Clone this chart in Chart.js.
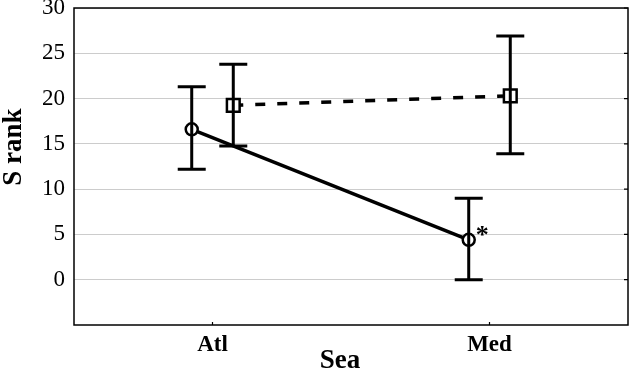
<!DOCTYPE html>
<html>
<head>
<meta charset="utf-8">
<script src="https://cdn.jsdelivr.net/npm/chart.js@4/dist/chart.umd.min.js"></script>
<style>
  html, body { margin: 0; padding: 0; background: #fff; }
  #wrap { width: 630px; height: 376px; position: relative; }
</style>
</head>
<body>
<div id="wrap"><canvas id="chart"></canvas></div>
<script>
// categories and values
const categories = ["Atl", "Med"];
const yTicks = [0, 5, 10, 15, 20, 25, 30];

const circleMeans = [16.6, 4.4];
const circleUpper = [21.3, 9.0];
const circleLower = [12.2, 0.0];
const circleMarks = ["", "*"];

const squareMeans = [19.25, 20.3];
const squareUpper = [23.8, 26.9];
const squareLower = [14.75, 13.9];

const groupShift = 0.075; // horizontal dodge of the two groups

const serif = "'Liberation Serif', 'DejaVu Serif', serif";

const points = (means, shift) => means.map((v, i) => ({ x: i + shift, y: v }));

// error bars, frame and titles
const extras = {
  id: "extras",
  afterDatasetsDraw(chart) {
    const { ctx, scales } = chart;
    const bars = [
      { upper: circleUpper, lower: circleLower, shift: -groupShift },
      { upper: squareUpper, lower: squareLower, shift: groupShift }
    ];
    ctx.save();
    ctx.strokeStyle = "#000";
    ctx.lineWidth = 3;
    bars.forEach((b) => {
      b.upper.forEach((u, i) => {
        const x = scales.x.getPixelForValue(i + b.shift);
        const yt = scales.y.getPixelForValue(u);
        const yb = scales.y.getPixelForValue(b.lower[i]);
        ctx.beginPath();
        ctx.moveTo(x, yt); ctx.lineTo(x, yb);
        ctx.moveTo(x - 14, yt); ctx.lineTo(x + 14, yt);
        ctx.moveTo(x - 14, yb); ctx.lineTo(x + 14, yb);
        ctx.stroke();
      });
    });
    ctx.restore();
  },
  afterDraw(chart) {
    const { ctx, chartArea, scales } = chart;
    ctx.save();
    // frame
    ctx.strokeStyle = "#000";
    ctx.lineWidth = 1.5;
    ctx.strokeRect(chartArea.left, chartArea.top, chartArea.right - chartArea.left, chartArea.bottom - chartArea.top);
    // small inner ticks
    ctx.lineWidth = 1.2;
    ctx.beginPath();
    categories.forEach((_, i) => {
      const x = scales.x.getPixelForValue(i);
      ctx.moveTo(x, chartArea.bottom); ctx.lineTo(x, chartArea.bottom - 3);
    });
    yTicks.forEach((v) => {
      const y = scales.y.getPixelForValue(v);
      ctx.moveTo(chartArea.right, y); ctx.lineTo(chartArea.right - 4, y);
    });
    ctx.stroke();
    // asterisk marks
    ctx.fillStyle = "#000";
    ctx.font = "bold 26px " + serif;
    ctx.textAlign = "left";
    ctx.textBaseline = "middle";
    circleMarks.forEach((m, i) => {
      if (!m) return;
      const x = scales.x.getPixelForValue(i - groupShift);
      const y = scales.y.getPixelForValue(circleMeans[i]);
      ctx.fillText(m, x + 7, y - 4);
    });
    // axis titles
    ctx.font = "bold 27px " + serif;
    ctx.textAlign = "center";
    ctx.fillText("Sea", 340, 361);
    ctx.translate(14, 147);
    ctx.rotate(-Math.PI / 2);
    ctx.fillText("S rank", 0, 0);
    ctx.restore();
  }
};

new Chart(document.getElementById("chart"), {
  type: "line",
  data: {
    datasets: [
      {
        label: "circle",
        data: points(circleMeans, -groupShift),
        borderColor: "#000",
        borderWidth: 3.5,
        pointStyle: "circle",
        pointRadius: 6,
        pointBorderWidth: 2.5,
        pointBackgroundColor: "#fff",
        pointBorderColor: "#000",
        order: 1
      },
      {
        label: "square",
        data: points(squareMeans, groupShift),
        borderColor: "#000",
        borderWidth: 3.5,
        borderDash: [10, 12],
        pointStyle: "rect",
        pointRadius: 9,
        pointBorderWidth: 2.5,
        pointBackgroundColor: "#fff",
        pointBorderColor: "#000",
        order: 0
      }
    ]
  },
  options: {
    responsive: true,
    maintainAspectRatio: false,
    animation: false,
    layout: { autoPadding: false, padding: { top: 8, right: 2, left: 0, bottom: 0 } },
    plugins: { legend: { display: false }, tooltip: { enabled: false } },
    scales: {
      x: {
        type: "linear",
        min: -0.5,
        max: 1.5,
        afterBuildTicks: (scale) => { scale.ticks = categories.map((_, i) => ({ value: i })); },
        afterFit: (scale) => { scale.height = 51; scale.paddingLeft = 0; scale.paddingRight = 0; },
        grid: { display: false, drawTicks: false },
        border: { display: false },
        ticks: {
          padding: 6,
          color: "#000",
          font: { family: serif, size: 23, weight: "bold" },
          callback: (value) => categories[value] ?? ""
        }
      },
      y: {
        min: -5,
        max: 30,
        afterBuildTicks: (scale) => { scale.ticks = [-5, ...yTicks].map((v) => ({ value: v })); },
        afterFit: (scale) => { scale.width = 74; scale.paddingTop = 0; scale.paddingBottom = 0; },
        grid: {
          drawTicks: false,
          lineWidth: 1,
          color: (c) => (c.tick && c.tick.value >= 0 ? "#cccccc" : "rgba(0,0,0,0)")
        },
        border: { display: false },
        ticks: {
          padding: 9,
          color: "#000",
          font: { family: serif, size: 23 },
          callback: (value) => (value < 0 ? "" : value)
        }
      }
    }
  },
  plugins: [extras]
});
</script>
</body>
</html>
